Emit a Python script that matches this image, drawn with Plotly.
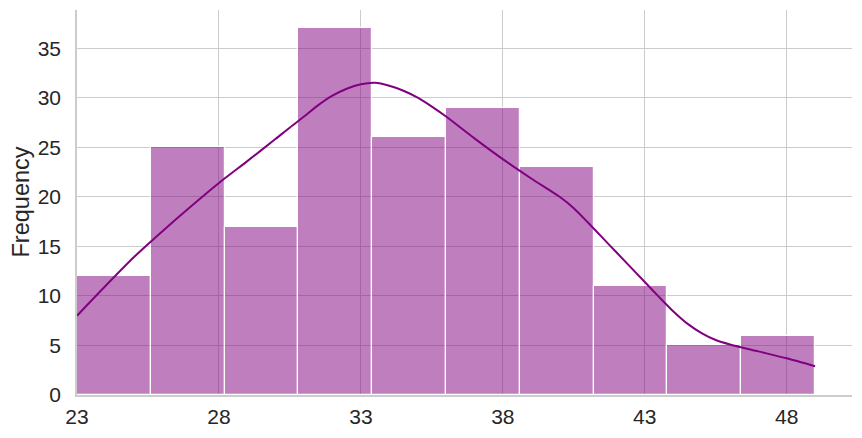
import plotly.graph_objects as go

# Histogram data (bin edges and counts)
bin_edges = [23.0, 25.6, 28.2, 30.8, 33.4, 36.0, 38.6, 41.2, 43.8, 46.4, 49.0]
counts = [12, 25, 17, 37, 26, 29, 23, 11, 5, 6]

# KDE curve
kde_x = [23.0, 24.0, 25.0, 26.0, 27.0, 28.0, 29.0, 30.0, 30.5, 31.0, 31.5, 32.0,
         32.5, 33.0, 33.5, 34.0, 34.5, 35.0, 35.5, 36.0, 37.0, 38.0, 39.0, 40.0,
         40.5, 41.0, 41.5, 42.0, 43.0, 43.5, 44.0, 44.5, 45.0, 45.5, 46.0, 47.0,
         48.0, 49.0]
kde_y = [8.0, 11.0, 13.9, 16.5, 19.0, 21.4, 23.6, 25.85, 27.0, 28.1, 29.25, 30.2,
         30.9, 31.35, 31.5, 31.2, 30.7, 30.0, 29.1, 28.1, 25.9, 23.8, 21.85, 20.0,
         18.85, 17.4, 15.9, 14.4, 11.4, 9.9, 8.45, 7.2, 6.25, 5.55, 5.1, 4.4,
         3.7, 2.9]

x_ticks = [23, 28, 33, 38, 43, 48]
y_ticks = [0, 5, 10, 15, 20, 25, 30, 35]

centers = [(a + b) / 2 for a, b in zip(bin_edges[:-1], bin_edges[1:])]
widths = [b - a for a, b in zip(bin_edges[:-1], bin_edges[1:])]

fig = go.Figure()
fig.add_trace(go.Bar(
    x=centers, y=counts, width=widths,
    marker=dict(color="rgba(128,0,128,0.5)", line=dict(color="white", width=1.2)),
    showlegend=False, hoverinfo="skip",
))
fig.add_trace(go.Scatter(
    x=kde_x, y=kde_y, mode="lines",
    line=dict(color="#800080", width=2, shape="spline", smoothing=0.7),
    showlegend=False, hoverinfo="skip",
))

font_family = "Liberation Sans, Arial, sans-serif"
text_color = "#262626"
fig.update_layout(
    width=862, height=438,
    margin=dict(l=77, r=10, t=10, b=43, autoexpand=False),
    plot_bgcolor="white", paper_bgcolor="white",
    font=dict(family=font_family, size=21, color=text_color),
    bargap=0,
)
fig.update_xaxes(
    range=[23, 50.3], tickmode="array", tickvals=x_ticks,
    ticktext=[str(t) for t in x_ticks],
    showgrid=True, gridcolor="#cccccc", gridwidth=1,
    showline=True, linecolor="#cccccc", linewidth=1.5,
    zeroline=False, ticks="outside", ticklen=2, tickcolor="rgba(0,0,0,0)",
    tickfont=dict(size=21, color=text_color), automargin=False,
)
fig.update_yaxes(
    range=[0, 38.85], tickmode="array", tickvals=y_ticks,
    ticktext=[str(t) for t in y_ticks],
    showgrid=True, gridcolor="#cccccc", gridwidth=1,
    showline=True, linecolor="#cccccc", linewidth=1.5,
    zeroline=False, ticks="outside", ticklen=10, tickcolor="rgba(0,0,0,0)",
    tickfont=dict(size=21, color=text_color), automargin=False,
)
fig.add_annotation(
    text="Frequency", xref="paper", yref="paper", x=0, y=0.5,
    xshift=-57, xanchor="center", yanchor="middle", textangle=-90,
    showarrow=False, font=dict(size=23.5, color=text_color, family=font_family),
)

fig.write_html("out.html", config={"displayModeBar": False},
               post_script="document.body.style.margin='0';")
